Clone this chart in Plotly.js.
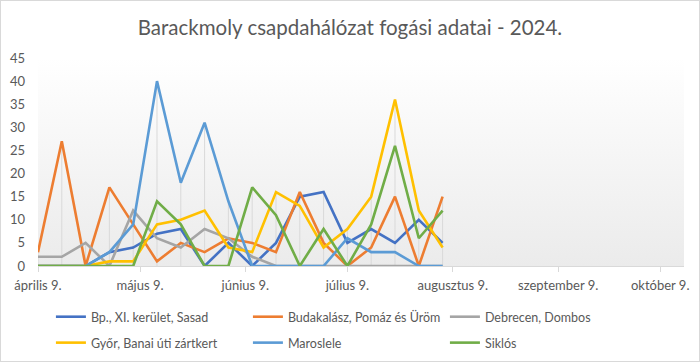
<!DOCTYPE html>
<html>
<head>
<meta charset="utf-8">
<script src="https://cdn.plot.ly/plotly-3.0.1.min.js"></script>
<style>
html,body{margin:0;padding:0;background:#fff;}
#frame{width:700px;height:362px;box-sizing:border-box;border:1px solid #d9d9d9;overflow:hidden;}
#chart{width:698px;height:360px;}
</style>
</head>
<body>
<div id="frame"><div id="chart"></div></div>
<script>
// ---- data ----
const dates = ['2024-04-09','2024-04-16','2024-04-23','2024-04-30','2024-05-07','2024-05-14',
  '2024-05-21','2024-05-28','2024-06-04','2024-06-11','2024-06-18','2024-06-25',
  '2024-07-02','2024-07-09','2024-07-16','2024-07-23','2024-07-30','2024-08-06'];
const seriesNames = ['Bp., XI. kerület, Sasad','Budakalász, Pomáz és Üröm','Debrecen, Dombos',
  'Győr, Banai úti zártkert','Maroslele','Siklós'];
const bpSasad    = [0,0,0,3,4,7,8,0,5,0,5,15,16,5,8,5,10,5];
const budakalasz = [3,27,0,17,9,1,5,3,6,5,3,16,5,0,4,15,0,15];
const debrecen   = [2,2,5,0,12,6,4,8,6,2,0,0,0,0,0,0,0,0];
const gyor       = [0,0,0,1,1,9,10,12,4,3,16,13,4,8,15,36,12,4];
const maroslele  = [0,0,0,3,9,40,18,31,14,0,0,0,0,6,3,3,0,0];
const siklos     = [0,0,0,0,0,14,9,0,0,17,11,0,8,0,9,26,6,12];
const tickDates  = ['2024-04-09','2024-05-09','2024-06-09','2024-07-09','2024-08-09','2024-09-09','2024-10-09'];
const tickLabels = ['április 9.','május 9.','június 9.','július 9.','augusztus 9.','szeptember 9.','október 9.'];
const yTicks     = [0,5,10,15,20,25,30,35,40,45];

// ---- styles ----
const allSeries = [bpSasad,budakalasz,debrecen,gyor,maroslele,siklos];
const colors = ['#4472C4','#ED7D31','#A5A5A5','#FFC000','#5B9BD5','#70AD47'];
const FONT = 'Lato, "Open Sans", sans-serif';
const TXT = '#595959';

// drop lines from axis to highest value at each date
const dropX = [], dropY = [];
dates.forEach((d,i)=>{
  const m = Math.max(...allSeries.map(s=>s[i]));
  dropX.push(d,d,null); dropY.push(0,m,null);
});
const traces = [{
  x: dropX, y: dropY, mode:'lines', line:{color:'#d9d9d9', width:1},
  showlegend:false, hoverinfo:'skip'
}];
allSeries.forEach((s,i)=>{
  traces.push({
    x: dates, y: s, name: seriesNames[i], mode:'lines',
    line:{color:colors[i], width:2.6},
    legend: i < 3 ? 'legend' : 'legend2'
  });
});

const svg = "<svg xmlns='http://www.w3.org/2000/svg' viewBox='0 0 10 10' width='10' height='10' preserveAspectRatio='none'><defs><linearGradient id='g' x1='0' y1='0' x2='0' y2='1'><stop offset='0' stop-color='#ffffff'/><stop offset='1' stop-color='#ebebeb'/></linearGradient></defs><rect width='10' height='10' fill='url(#g)'/></svg>";
const bg = 'data:image/svg+xml;charset=utf-8,' + encodeURIComponent(svg);

const legendCommon = {
  orientation:'h', xanchor:'left', yanchor:'middle', xref:'paper', yref:'container',
  font:{family:FONT, size:12.5, color:TXT},
  entrywidth:152, entrywidthmode:'pixels', bgcolor:'rgba(0,0,0,0)',
  tracegroupgap:0
};

const layout = {
  width:698, height:360,
  margin:{l:37, r:15, t:57, b:95, autoexpand:false},
  paper_bgcolor:'#ffffff', plot_bgcolor:'rgba(0,0,0,0)',
  title:{text:'Barackmoly csapdahálózat fogási adatai - 2024.',
    font:{family:FONT, size:20.5, color:TXT}, x:0.5, xanchor:'center', y:0.925, yanchor:'middle'},
  xaxis:{type:'date', range:['2024-04-09','2024-10-16'], tickvals:tickDates, ticktext:tickLabels,
    showgrid:false, zeroline:false, showline:true, linecolor:'#d9d9d9', linewidth:1,
    ticks:'outside', ticklen:5, tickcolor:'#d9d9d9', tickfont:{family:FONT, size:13, color:TXT},
    ticklabelstandoff:2, fixedrange:true, automargin:false},
  yaxis:{range:[0,45], tickvals:yTicks, ticktext:yTicks.map(String), showgrid:false, zeroline:false,
    showline:false, ticks:'', tickfont:{family:FONT, size:13, color:TXT}, ticklabelstandoff:12,
    fixedrange:true, automargin:false},
  legend: Object.assign({x:0.02, y:0.122}, legendCommon),
  legend2: Object.assign({x:0.02, y:0.05}, legendCommon),
  images:[{source:bg, xref:'paper', yref:'paper', x:0, y:1, sizex:1, sizey:1,
    sizing:'stretch', xanchor:'left', yanchor:'top', layer:'below'}],
  hovermode:false
};
Plotly.newPlot('chart', traces, layout, {displayModeBar:false, staticPlot:true});
</script>
</body>
</html>
